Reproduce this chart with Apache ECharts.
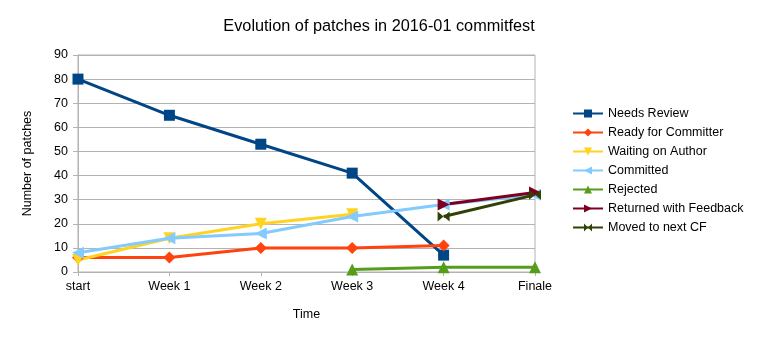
<!DOCTYPE html>
<html><head><meta charset="utf-8">
<script src="https://cdn.jsdelivr.net/npm/echarts@6/dist/echarts.min.js"></script>
<style>html,body{margin:0;padding:0;background:#fff}#c{width:758px;height:340px}</style>
</head><body><div id="c"></div>
<script>
const categories = ['start','Week 1','Week 2','Week 3','Week 4','Finale'];
const needsReview = [80, 65, 53, 41, 7, null];
const readyForCommitter = [6, 6, 10, 10, 11, null];
const waitingOnAuthor = [5, 14, 20, 24, null, null];
const committed = [8, 14, 16, 23, 28, 32];
const rejected = [null, null, null, 1, 2, 2];
const returnedWithFeedback = [null, null, null, null, 28, 33];
const movedToNextCF = [null, null, null, null, 23, 32];
const yTicks = [0, 10, 20, 30, 40, 50, 60, 70, 80, 90];

const font = 'Liberation Sans, DejaVu Sans, sans-serif';
const fs = 12.5;
function mk(name, data, color, symbol, rot, size) {
  return {
    name, type: 'line', data, connectNulls: false,
    symbol, symbolSize: size || 11, symbolRotate: rot || 0,
    lineStyle: {color, width: 3}, itemStyle: {color},
    emphasis: {disabled: true}, animation: false
  };
}
const chart = echarts.init(document.getElementById('c'), null, {renderer: 'canvas'});
chart.setOption({
  animation: false,
  backgroundColor: '#fff',
  title: {text: 'Evolution of patches in 2016-01 commitfest', left: 'center', top: 14,
    textStyle: {fontFamily: font, fontSize: 16.3, fontWeight: 'normal', color: '#000'}},
  grid: {left: 78, right: 223, top: 55, bottom: 68, show: true, borderColor: '#b3b3b3', borderWidth: 1},
  legend: {orient: 'vertical', left: 567, top: 102, itemWidth: 30, itemHeight: 10, itemGap: 6,
    textStyle: {fontFamily: font, fontSize: fs, color: '#000'}, selectedMode: false},
  xAxis: {type: 'category', data: categories, boundaryGap: false,
    name: 'Time', nameLocation: 'middle', nameGap: 36,
    nameTextStyle: {fontFamily: font, fontSize: fs, color: '#000'},
    axisLine: {lineStyle: {color: '#b3b3b3'}},
    axisTick: {show: true, length: 4, lineStyle: {color: '#b3b3b3'}},
    axisLabel: {fontFamily: font, fontSize: fs, color: '#000', margin: 8},
    splitLine: {show: false}},
  yAxis: {type: 'value', min: yTicks[0], max: yTicks[yTicks.length-1], interval: 10,
    name: 'Number of patches', nameLocation: 'middle', nameGap: 44,
    nameTextStyle: {fontFamily: font, fontSize: fs, color: '#000'},
    axisLine: {show: true, lineStyle: {color: '#b3b3b3'}},
    axisTick: {show: true, length: 5, lineStyle: {color: '#b3b3b3'}},
    axisLabel: {fontFamily: font, fontSize: fs, color: '#000', margin: 10},
    splitLine: {lineStyle: {color: '#b3b3b3'}}},
  series: [
    mk('Needs Review', needsReview, '#004586', 'rect', 0, 11),
    mk('Ready for Committer', readyForCommitter, '#ff420e', 'diamond', 0, 12),
    mk('Waiting on Author', waitingOnAuthor, '#ffd320', 'triangle', 180, 12),
    mk('Committed', committed, '#83caff', 'triangle', 90, 12),
    mk('Rejected', rejected, '#579d1c', 'triangle', 0, 12),
    mk('Returned with Feedback', returnedWithFeedback, '#7e0021', 'triangle', -90, 12),
    mk('Moved to next CF', movedToNextCF, '#314004', 'path://M0,0L10,5L0,10Z M20,0L10,5L20,10Z', 0, [12, 10])
  ]
});
</script></body></html>
